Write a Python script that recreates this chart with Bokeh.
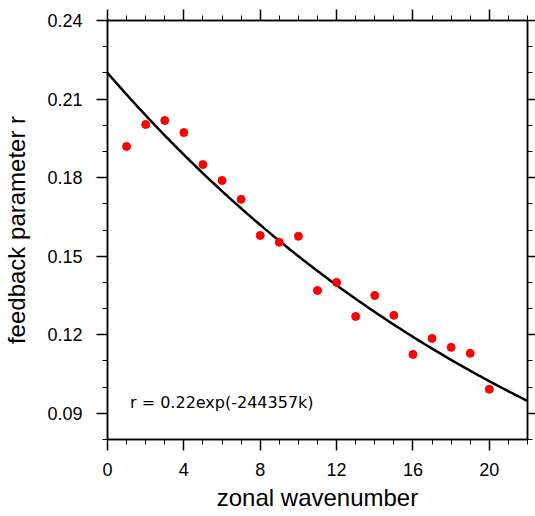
import numpy as np
from bokeh.plotting import figure
from bokeh.models import Range1d, FixedTicker, LinearAxis, Label
from bokeh.embed import file_html
from bokeh.resources import INLINE

# ---- data ----
wavenumber = [1, 2, 3, 4, 5, 6, 7, 8, 9, 10, 11, 12, 13, 14, 15, 16, 17, 18, 19, 20]
feedback_r = [0.1919, 0.2003, 0.2018, 0.1972, 0.1850, 0.1789, 0.1717, 0.1579, 0.1553, 0.1576,
              0.1369, 0.1400, 0.1270, 0.1350, 0.1274, 0.1125, 0.1186, 0.1152, 0.1129, 0.0992]
fit_amp = 0.22
fit_rate = 0.0383
fit_text = "r = 0.22exp(-244357k)"
x_ticks = [0, 4, 8, 12, 16, 20]
x_tick_labels = ["0", "4", "8", "12", "16", "20"]
y_ticks = [0.09, 0.12, 0.15, 0.18, 0.21, 0.24]
y_tick_labels = ["0.09", "0.12", "0.15", "0.18", "0.21", "0.24"]

k_fit = np.linspace(0, 22, 200)
r_fit = fit_amp * np.exp(-fit_rate * k_fit)

p = figure(width=535, height=516, x_range=Range1d(0, 22), y_range=Range1d(0.08, 0.24),
           output_backend="svg", toolbar_location=None,
           min_border_left=107, min_border_right=8, min_border_top=20, min_border_bottom=77)
p.grid.visible = False
p.background_fill_color = "white"
p.border_fill_color = "white"
p.outline_line_color = "black"
p.outline_line_width = 1.5

p.line(k_fit, r_fit, line_color="black", line_width=2.5)
p.scatter(wavenumber, feedback_r, size=8, color="#ff0000", line_color="#ff0000")

x_minor = list(range(0, 23))
y_minor = [round(0.08 + 0.01 * i, 2) for i in range(17)]

def style(ax):
    ax.axis_line_color = "black"
    ax.axis_line_width = 1.5
    ax.major_tick_in = 0
    ax.major_tick_out = 11
    ax.minor_tick_in = 0
    ax.minor_tick_out = 5
    ax.major_tick_line_width = 1.5
    ax.minor_tick_line_width = 1
    ax.major_label_text_font = "Liberation Sans"
    ax.major_label_text_font_size = "18px"
    ax.major_label_text_color = "black"
    ax.axis_label_text_font = "Liberation Sans"
    ax.axis_label_text_font_size = "24px"
    ax.axis_label_text_font_style = "normal"
    ax.axis_label_text_color = "black"

def hide_labels(ax):
    ax.major_label_text_font_size = "1px"
    ax.major_label_text_color = None
    ax.major_label_standoff = 0

xa = p.xaxis[0]
xa.ticker = FixedTicker(ticks=x_ticks, minor_ticks=x_minor)
xa.major_label_overrides = {t: l for t, l in zip(x_ticks, x_tick_labels)}
style(xa)
xa.major_label_standoff = 12
xa.axis_label = "zonal wavenumber"
xa.axis_label_standoff = 5

ya = p.yaxis[0]
ya.ticker = FixedTicker(ticks=y_ticks, minor_ticks=y_minor)
ya.major_label_overrides = {t: l for t, l in zip(y_ticks, y_tick_labels)}
style(ya)
ya.major_label_standoff = 14
ya.axis_label = "feedback parameter r"
ya.axis_label_standoff = 14

top = LinearAxis(ticker=FixedTicker(ticks=x_ticks, minor_ticks=x_minor))
style(top)
hide_labels(top)
p.add_layout(top, "above")

right = LinearAxis(ticker=FixedTicker(ticks=y_ticks, minor_ticks=y_minor))
style(right)
hide_labels(right)
right.major_tick_out = 8
p.add_layout(right, "right")

p.add_layout(Label(x=1.18, y=0.0943, text=fit_text, text_font="DejaVu Sans",
                   text_font_size="16px", text_baseline="middle", text_align="left",
                   text_color="black"))

open("out.html", "w").write(file_html(p, INLINE))
